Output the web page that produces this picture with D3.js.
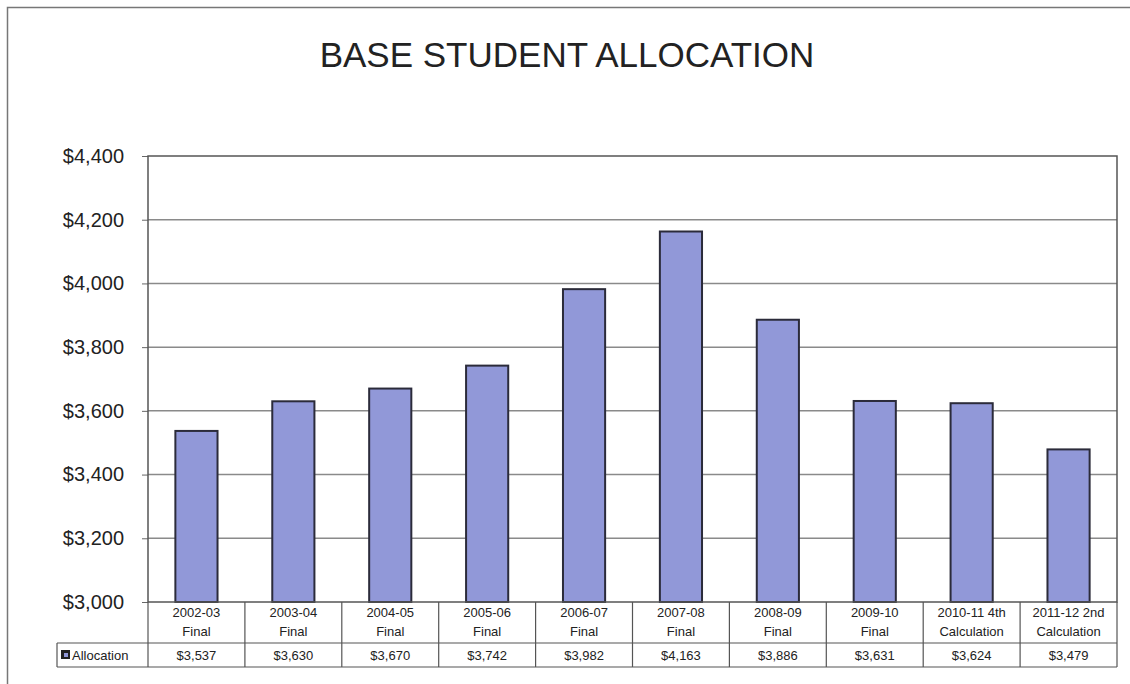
<!DOCTYPE html>
<html>
<head>
<meta charset="utf-8">
<script src="https://cdn.jsdelivr.net/npm/d3@7"></script>
<style>
  html, body { margin: 0; padding: 0; background: #fff; }
  svg { display: block; font-family: "Liberation Sans", Arial, sans-serif; }
</style>
</head>
<body>
<svg id="chart" width="1130" height="684"></svg>
<script>
// Fiscal-year categories (two text lines each) and the base allocation per student
const yearLabels = ["2002-03", "2003-04", "2004-05", "2005-06", "2006-07", "2007-08", "2008-09", "2009-10", "2010-11 4th", "2011-12 2nd"];
const stageLabels = ["Final", "Final", "Final", "Final", "Final", "Final", "Final", "Final", "Calculation", "Calculation"];
const allocation = [3537, 3630, 3670, 3742, 3982, 4163, 3886, 3631, 3624, 3479];
const yTicks = [3000, 3200, 3400, 3600, 3800, 4000, 4200, 4400];
const seriesName = "Allocation";
const chartTitle = "BASE STUDENT ALLOCATION";

const svg = d3.select("#chart");
const plot = { left: 148, right: 1117, top: 156, bottom: 602 };
const rowSplit = 643, rowBottom = 667, legendLeft = 57;

const cats = d3.range(allocation.length);
const xCol = d3.scaleBand().domain(cats).range([plot.left, plot.right]).padding(0);
const xBar = d3.scaleBand().domain(cats).range([plot.left, plot.right])
  .paddingInner(0.565).paddingOuter(0.2825);
const y = d3.scaleLinear().domain([3000, 4400]).range([plot.bottom, plot.top]);

const fmt = v => "$" + d3.format(",")(v);

// outer frame
svg.append("path")
  .attr("d", `M7.5,684 V7.5 H1130`)
  .attr("fill", "none").attr("stroke", "#777").attr("stroke-width", 1.5);

// title
svg.append("text")
  .attr("x", 567).attr("y", 67)
  .attr("text-anchor", "middle")
  .attr("font-size", 35)
  .attr("fill", "#222")
  .text(chartTitle);

// horizontal gridlines
svg.append("g")
  .selectAll("line").data(yTicks.slice(1, -1)).join("line")
  .attr("x1", plot.left).attr("x2", plot.right)
  .attr("y1", d => y(d)).attr("y2", d => y(d))
  .attr("stroke", "#8a8a8a").attr("stroke-width", 1.5);

// y axis with dollar labels
const yAxis = d3.axisLeft(y).tickValues(yTicks).tickFormat(fmt).tickSize(6).tickPadding(18);
const gy = svg.append("g").attr("transform", `translate(${plot.left},0)`).call(yAxis);
gy.select(".domain").remove();
gy.selectAll(".tick line").attr("stroke", "#666");
gy.selectAll(".tick text").attr("font-size", 20).attr("fill", "#222")
  .attr("font-family", "'Liberation Sans', Arial, sans-serif");

// bars
svg.append("g")
  .selectAll("rect").data(allocation).join("rect")
  .attr("x", (d, i) => xBar(i))
  .attr("width", xBar.bandwidth())
  .attr("y", d => y(d))
  .attr("height", d => y(3000) - y(d))
  .attr("fill", "#9198d8")
  .attr("stroke", "#2b2b3a")
  .attr("stroke-width", 2);

// plot frame
svg.append("rect")
  .attr("x", plot.left).attr("y", plot.top)
  .attr("width", plot.right - plot.left).attr("height", plot.bottom - plot.top)
  .attr("fill", "none").attr("stroke", "#555").attr("stroke-width", 1.5);

// data table below the plot
const table = svg.append("g").attr("stroke", "#555").attr("stroke-width", 1.2);
table.append("line").attr("x1", legendLeft).attr("x2", plot.right).attr("y1", rowSplit).attr("y2", rowSplit);
table.append("line").attr("x1", legendLeft).attr("x2", plot.right).attr("y1", rowBottom).attr("y2", rowBottom);
table.append("line").attr("x1", legendLeft).attr("x2", legendLeft).attr("y1", rowSplit).attr("y2", rowBottom);
table.selectAll("line.col").data(cats.concat([cats.length])).join("line")
  .attr("class", "col")
  .attr("x1", i => i < cats.length ? xCol(i) : plot.right)
  .attr("x2", i => i < cats.length ? xCol(i) : plot.right)
  .attr("y1", plot.bottom).attr("y2", rowBottom);

const labels = svg.append("g").attr("font-size", 13).attr("fill", "#222").attr("text-anchor", "middle");
labels.selectAll("text.yr").data(yearLabels).join("text")
  .attr("class", "yr")
  .attr("x", (d, i) => xCol(i) + xCol.bandwidth() / 2)
  .attr("y", 617).text(d => d);
labels.selectAll("text.st").data(stageLabels).join("text")
  .attr("class", "st")
  .attr("x", (d, i) => xCol(i) + xCol.bandwidth() / 2)
  .attr("y", 636).text(d => d);
labels.selectAll("text.val").data(allocation).join("text")
  .attr("class", "val")
  .attr("x", (d, i) => xCol(i) + xCol.bandwidth() / 2)
  .attr("y", 660).text(d => fmt(d));

// legend key in the table's row header
svg.append("rect").attr("x", 61).attr("y", 650).attr("width", 9).attr("height", 9)
  .attr("fill", "#222");
svg.append("rect").attr("x", 64).attr("y", 653).attr("width", 4).attr("height", 4)
  .attr("fill", "#9198d8");
svg.append("text").attr("x", 72).attr("y", 660)
  .attr("font-size", 13).attr("fill", "#222").text(seriesName);
</script>
</body>
</html>
